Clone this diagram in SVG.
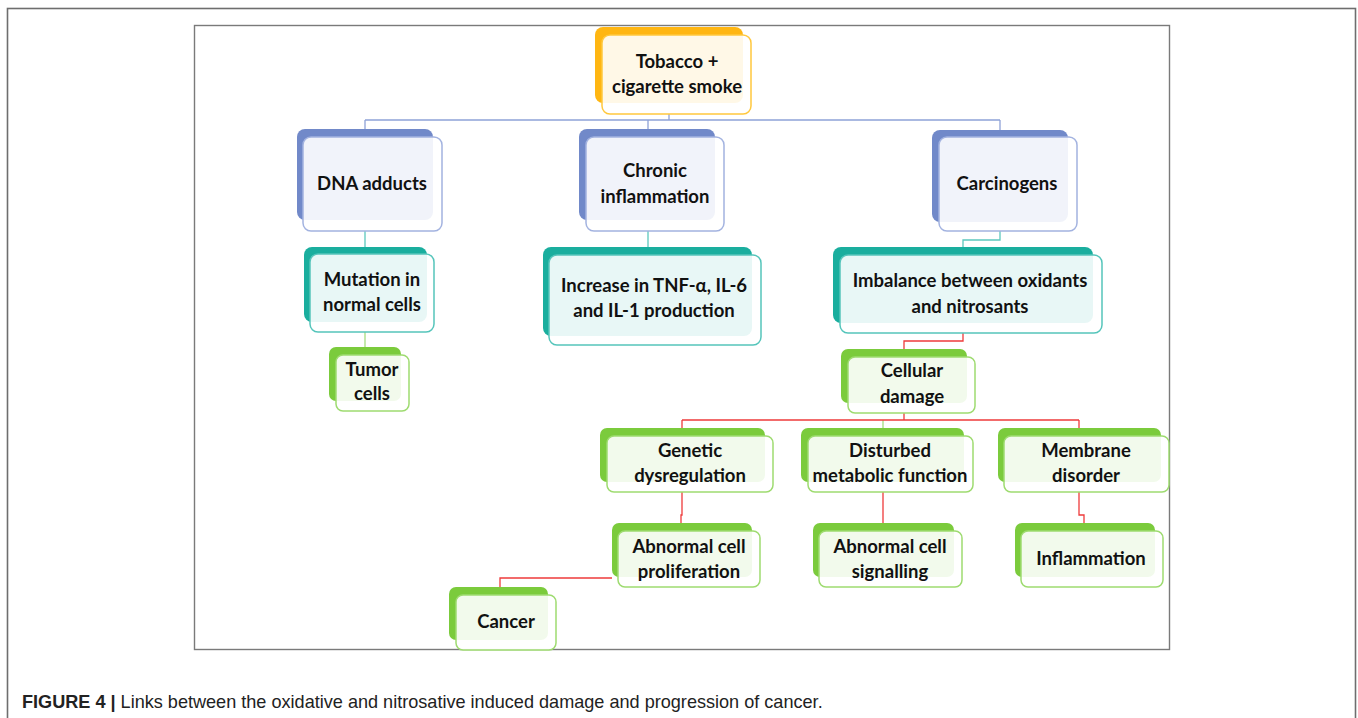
<svg xmlns="http://www.w3.org/2000/svg" width="1358" height="718" viewBox="0 0 1358 718">
<style>
.t{font-family:Lato,"Liberation Sans",sans-serif;font-weight:bold;font-size:18.5px;fill:#111;text-anchor:middle}
.fr{fill:#fff;fill-opacity:0.9;stroke-width:1.5}
.bb{fill:#7189c9}.bf{stroke:#a3b3e0}
.tb{fill:#1aae9e}.tf{stroke:#55c5bb}
.gb{fill:#7bcb3c}.gf{stroke:#9edb70}
.ob{fill:#ffb612}.of{stroke:#ffc83e}
.c{fill:none;stroke-width:1.3}
.cb{stroke:#8fa2d7}.ct{stroke:#5cc8be}.cg{stroke:#a6dd80}.cr{stroke:#ee3b3b}
.cap{font-family:"Liberation Sans",Arial,sans-serif;font-size:18.1px;fill:#222}
</style>
<rect x="0" y="0" width="1358" height="718" fill="#fff"/>
<rect x="7.5" y="8.5" width="1348" height="740" fill="none" stroke="#6e6e6e" stroke-width="1.6"/>
<rect x="194.5" y="25.5" width="975" height="624" fill="none" stroke="#7a7a7a" stroke-width="1.4"/>

<g id="connectors">
<path class="c cb" d="M669,114V120M365,120H1000M365,120V129M648,120V129M1000,120V130"/>
<path class="c ct" d="M365,231V247M648,231V247M1000,231V240H963V247"/>
<path class="c cg" d="M365,332V347M883,420V428"/>
<path class="c cr" d="M963,333V341H904V349M904,413V420M682,420H1079M682,420V428M1079,420V428M682,492V515H681V523M883,492V523M1079,492V515H1084V523M612,578H500V587"/>
</g>

<g id="n-tobacco">
<rect class="ob" x="595" y="27" width="148" height="76" rx="8"/>
<rect class="fr of" x="602" y="35" width="149" height="79" rx="8"/>
<text class="t" x="677" y="68">Tobacco +</text>
<text class="t" x="677" y="93">cigarette smoke</text>
</g>
<g id="n-dna">
<rect class="bb" x="297" y="129" width="136" height="91" rx="8"/>
<rect class="fr bf" x="303" y="137" width="139" height="94" rx="8"/>
<text class="t" x="372" y="190">DNA adducts</text>
</g>
<g id="n-chronic">
<rect class="bb" x="579" y="129" width="136" height="91" rx="8"/>
<rect class="fr bf" x="586" y="137" width="138" height="94" rx="8"/>
<text class="t" x="655" y="177">Chronic</text>
<text class="t" x="655" y="203">inflammation</text>
</g>
<g id="n-carcinogens">
<rect class="bb" x="932" y="130" width="136" height="92" rx="8"/>
<rect class="fr bf" x="939" y="137" width="138" height="94" rx="8"/>
<text class="t" x="1007" y="190">Carcinogens</text>
</g>
<g id="n-mutation">
<rect class="tb" x="304" y="247" width="123" height="75" rx="8"/>
<rect class="fr tf" x="310" y="254" width="124" height="78" rx="8"/>
<text class="t" x="372" y="286">Mutation in</text>
<text class="t" x="372" y="311">normal cells</text>
</g>
<g id="n-tumor">
<rect class="gb" x="329" y="347" width="72" height="54" rx="7"/>
<rect class="fr gf" x="336" y="355" width="73" height="56" rx="7"/>
<text class="t" x="372" y="376">Tumor</text>
<text class="t" x="372" y="400">cells</text>
</g>
<g id="n-increase">
<rect class="tb" x="543" y="247" width="209" height="89" rx="8"/>
<rect class="fr tf" x="549" y="255" width="212" height="90" rx="8"/>
<text class="t" x="654" y="292">Increase in TNF-α, IL-6</text>
<text class="t" x="654" y="317">and IL-1 production</text>
</g>
<g id="n-imbalance">
<rect class="tb" x="833" y="247" width="260" height="76" rx="8"/>
<rect class="fr tf" x="840" y="255" width="262" height="78" rx="8"/>
<text class="t" x="970" y="287">Imbalance between oxidants</text>
<text class="t" x="970" y="313">and nitrosants</text>
</g>
<g id="n-cellular">
<rect class="gb" x="841" y="349" width="126" height="54" rx="7"/>
<rect class="fr gf" x="848" y="357" width="127" height="56" rx="7"/>
<text class="t" x="912" y="377">Cellular</text>
<text class="t" x="912" y="403">damage</text>
</g>
<g id="n-genetic">
<rect class="gb" x="600" y="428" width="165" height="54" rx="7"/>
<rect class="fr gf" x="607" y="436" width="166" height="56" rx="7"/>
<text class="t" x="690" y="457">Genetic</text>
<text class="t" x="690" y="482">dysregulation</text>
</g>
<g id="n-disturbed">
<rect class="gb" x="801" y="428" width="163" height="54" rx="7"/>
<rect class="fr gf" x="808" y="436" width="165" height="56" rx="7"/>
<text class="t" x="890" y="457">Disturbed</text>
<text class="t" x="890" y="482">metabolic function</text>
</g>
<g id="n-membrane">
<rect class="gb" x="998" y="428" width="163" height="54" rx="7"/>
<rect class="fr gf" x="1004" y="436" width="165" height="56" rx="7"/>
<text class="t" x="1086" y="457">Membrane</text>
<text class="t" x="1086" y="482">disorder</text>
</g>
<g id="n-proliferation">
<rect class="gb" x="612" y="523" width="140" height="54" rx="7"/>
<rect class="fr gf" x="618" y="531" width="142" height="56" rx="7"/>
<text class="t" x="689" y="553">Abnormal cell</text>
<text class="t" x="689" y="578">proliferation</text>
</g>
<g id="n-signalling">
<rect class="gb" x="813" y="523" width="141" height="54" rx="7"/>
<rect class="fr gf" x="819" y="531" width="143" height="56" rx="7"/>
<text class="t" x="890" y="553">Abnormal cell</text>
<text class="t" x="890" y="578">signalling</text>
</g>
<g id="n-inflammation">
<rect class="gb" x="1015" y="523" width="140" height="54" rx="7"/>
<rect class="fr gf" x="1021" y="531" width="142" height="56" rx="7"/>
<text class="t" x="1091" y="565">Inflammation</text>
</g>
<g id="n-cancer">
<rect class="gb" x="449" y="587" width="99" height="53" rx="7"/>
<rect class="fr gf" x="456" y="595" width="100" height="55" rx="7"/>
<text class="t" x="506" y="628">Cancer</text>
</g>

<text class="cap" x="22" y="708"><tspan font-weight="bold">FIGURE 4 |</tspan> Links between the oxidative and nitrosative induced damage and progression of cancer.</text>
</svg>
